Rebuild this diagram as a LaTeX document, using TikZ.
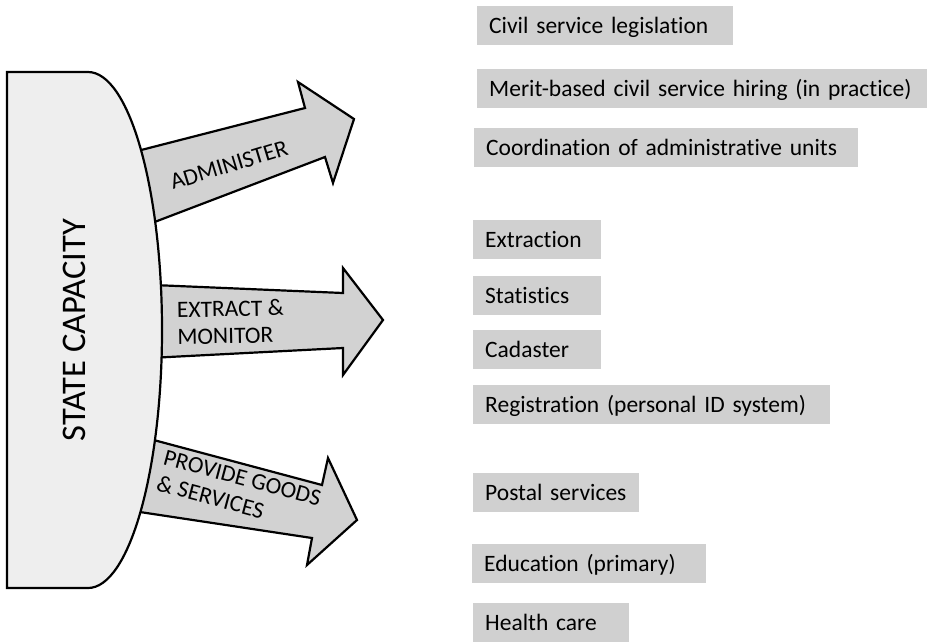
\documentclass[tikz,border=0pt]{standalone}
\usepackage{fontspec}
\setmainfont{Carlito}[Ligatures=NoCommon]
\usepackage{xcolor}

\definecolor{boxgray}{RGB}{208,208,208}
\definecolor{arrowgray}{RGB}{210,210,210}
\definecolor{stategray}{RGB}{238,238,238}

\begin{document}
\begin{tikzpicture}[x=1pt, y=-1pt]
            \tikzstyle{task} = [fill=arrowgray, draw=black, line width=2.2pt, miter limit=20]
            \tikzstyle{label} = [font=\fontsize{23.5}{27}\selectfont, align=left, inner sep=0pt]
            \tikzstyle{item} = [fill=boxgray, anchor=north west, inner xsep=12pt, inner ysep=0pt,
                minimum height=39pt, align=left, font=\fontsize{23.5}{28}\selectfont,
                text height=17pt, text depth=1pt]
            \useasboundingbox (0, 0) rectangle (927, 641);
            \clip (0, 0) rectangle (927, 641);
            % the three arrows, tails hidden under the state
            \filldraw[task] (110, 158) -- (305, 108) -- (298, 82) -- (354, 119)
                -- (333, 183) -- (325, 157) -- (110, 239) -- cycle;
            \filldraw[task] (130, 284) -- (343, 293) -- (343, 268) -- (383, 320)
                -- (343, 375) -- (343, 348) -- (130, 359) -- cycle;
            \filldraw[task] (120, 431) -- (322, 485) -- (328, 458) -- (357, 520)
                -- (307, 565) -- (312, 538) -- (120, 509) -- cycle;
            % the state
            \filldraw[fill=stategray, line width=2.2pt] (7, 72) -- (88, 72)
                arc[start angle=90, end angle=-90, x radius=74pt, y radius=258pt]
                -- (7, 588) -- cycle;
            \node[rotate=90, font=\fontsize{34.5}{40}\selectfont] (state) at (74, 330) {STATE CAPACITY};
            \node[label, rotate=17] (administer) at (229, 165) {ADMINISTER};
            \node[label, anchor=west, rotate=1] (extract) at (177, 323) {EXTRACT \&\\MONITOR};
            \node[label, rotate=-15] (provide) at (239, 491) {PROVIDE GOODS\\\& SERVICES};
            % administer
            \node[item, text width=232pt] (civil) at (477, 6) {Civil service legislation};
            \node[item, text width=436pt] (merit) at (477, 69) {\mbox{Merit-based civil service hiring (in practice)}};
            \node[item, text width=360pt] (coord) at (474, 128) {Coordination of administrative units};
            % extract & monitor
            \node[item, text width=104pt] (extraction) at (473, 220) {Extraction};
            \node[item, text width=104pt] (statistics) at (473, 276) {Statistics};
            \node[item, text width=104pt] (cadaster) at (473, 330) {Cadaster};
            \node[item, text width=333pt] (registration) at (473, 385) {Registration (personal ID system)};
            % provide goods & services
            \node[item, text width=142pt] (postal) at (473, 473) {\mbox{Postal services}};
            \node[item, text width=210pt] (education) at (472, 544) {Education (primary)};
            \node[item, text width=132pt] (health) at (473, 603) {Health care};
        \end{tikzpicture}
\end{document}
